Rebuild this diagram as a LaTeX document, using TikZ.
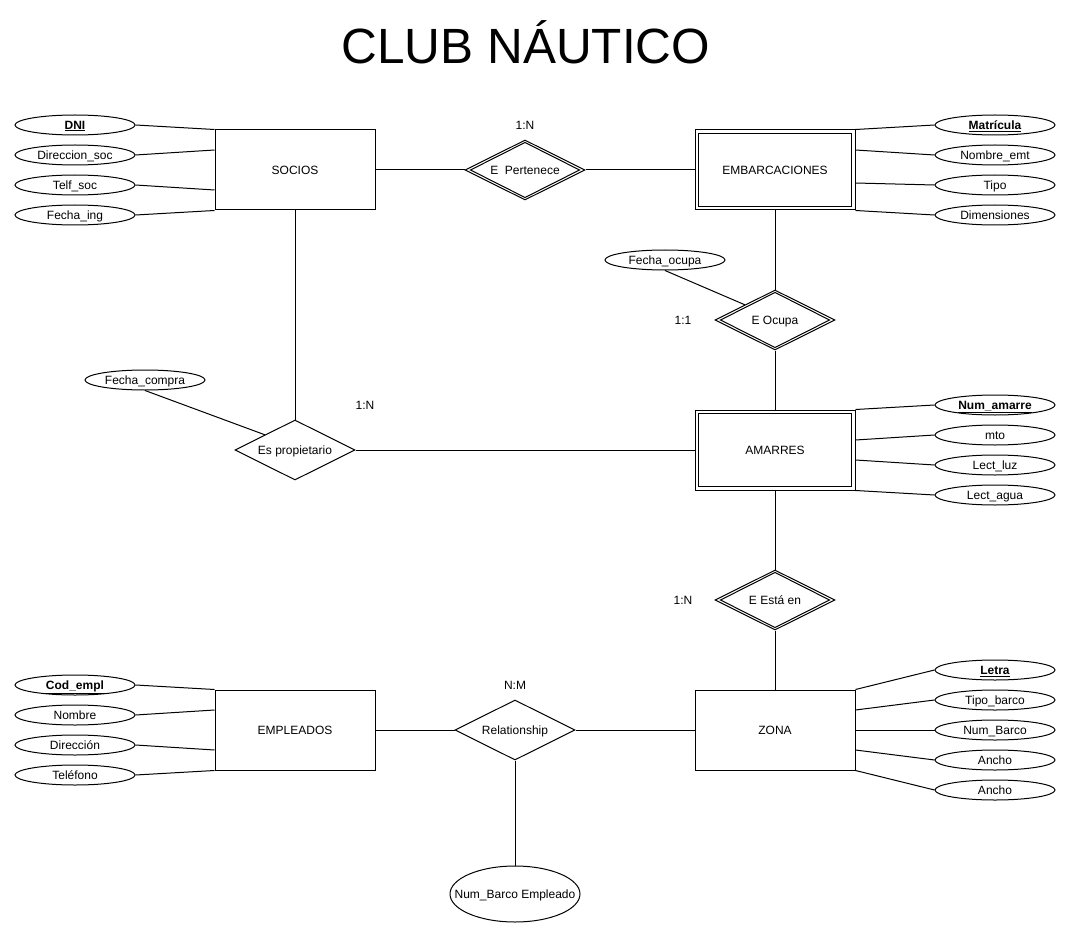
\documentclass[tikz,border=0pt]{standalone}
\usepackage{fontspec}
\setmainfont{Liberation Sans}
\usetikzlibrary{shapes.geometric,calc,backgrounds}
\newcommand{\zw}[1]{\makebox[0pt]{#1}}
\newcommand{\pk}[1]{\underline{\textbf{#1}}}
\begin{document}
\begin{tikzpicture}[x=1pt,y=-1pt,
  every node/.style={font=\fontsize{12}{14}\selectfont, inner sep=0pt, text height=8.4pt, text depth=0pt},
  entity/.style={draw, fill=white, line width=1pt, rectangle, minimum width=160pt, minimum height=80pt},
  attr/.style={draw, fill=white, line width=1pt, ellipse, minimum width=120pt, minimum height=20pt},
  rel/.style={draw, fill=white, line width=1pt, diamond, minimum width=120pt, minimum height=60pt},
  conn/.style={line width=1pt},
  card/.style={font=\fontsize{12}{14}\selectfont},
]
\useasboundingbox (0,0) rectangle (1071,936);

% title
\node[text height=36pt, text depth=10pt] (title) at (526,51) {\fontsize{49.5}{58}\selectfont CLUB NÁUTICO};

% entities
\node[entity] (soc) at (295,170) {SOCIOS};
\node[entity] (emb) at (775,170) {EMBARCACIONES};
\node[entity] (ama) at (775,450) {AMARRES};
\node[entity] (zon) at (775,730) {ZONA};
\node[entity] (emp) at (295,730) {EMPLEADOS};
\draw[conn] ($(emb.north west)+(4,4)$) rectangle ($(emb.south east)+(-4,-4)$);
\draw[conn] ($(ama.north west)+(4,4)$) rectangle ($(ama.south east)+(-4,-4)$);

% relationships
\node[rel] (per) at (525,170) {\zw{E\ \ Pertenece}};
\node[rel] (ocu) at (775,320) {\zw{E Ocupa}};
\node[rel] (pro) at (295,450) {\zw{Es propietario}};
\node[rel] (est) at (775,600) {\zw{E Está en}};
\node[rel] (relm) at (515,730) {\zw{Relationship}};
\foreach \r in {per,ocu,est}{
  \draw[conn] ($(\r.west)+(6,0)$) -- ($(\r.north)+(0,3)$) -- ($(\r.east)+(-6,0)$) -- ($(\r.south)+(0,-3)$) -- cycle;
}

% attributes SOCIOS
\node[attr] (dni) at (75,125) {\zw{\pk{DNI}}};
\node[attr] (dirs) at (75,155) {\zw{Direccion\_soc}};
\node[attr] (tels) at (75,185) {\zw{Telf\_soc}};
\node[attr] (fing) at (75,215) {\zw{Fecha\_ing}};
% attributes EMBARCACIONES
\node[attr] (mat) at (995,125) {\zw{\pk{Matrícula}}};
\node[attr] (nome) at (995,155) {\zw{Nombre\_emt}};
\node[attr] (tipo) at (995,185) {\zw{Tipo}};
\node[attr] (dim) at (995,215) {\zw{Dimensiones}};
% relationship attributes
\node[attr] (fo) at (665,260) {\zw{Fecha\_ocupa}};
\node[attr] (fc) at (145,380) {\zw{Fecha\_compra}};
% attributes AMARRES
\node[attr] (nam) at (995,405) {\zw{\pk{Num\_amarre}}};
\node[attr] (mto) at (995,435) {\zw{mto}};
\node[attr] (luz) at (995,465) {\zw{Lect\_luz}};
\node[attr] (agua) at (995,495) {\zw{Lect\_agua}};
% attributes ZONA
\node[attr] (letra) at (995,670) {\zw{\pk{Letra}}};
\node[attr] (tb) at (995,700) {\zw{Tipo\_barco}};
\node[attr] (nb) at (995,730) {\zw{Num\_Barco}};
\node[attr] (an1) at (995,760) {\zw{Ancho}};
\node[attr] (an2) at (995,790) {\zw{Ancho}};
% attributes EMPLEADOS
\node[attr] (cod) at (75,685) {\zw{\pk{Cod\_empl}}};
\node[attr] (nomb) at (75,715) {\zw{Nombre}};
\node[attr] (dire) at (75,745) {\zw{Dirección}};
\node[attr] (telf) at (75,775) {\zw{Teléfono}};
% relationship attribute
\node[attr, minimum width=130pt, minimum height=56pt] (nbe) at (515,894) {\zw{Num\_Barco Empleado}};

% cardinalities
\node[card] (c1) at (525,125) {1:N};
\node[card] (c2) at (683,320) {1:1};
\node[card] (c3) at (365,405) {1:N};
\node[card] (c4) at (683,600) {1:N};
\node[card] (c5) at (515,685) {N:M};

\begin{scope}[on background layer]
\fill[white] (0,0) rectangle (1071,936);
% relationship connectors
\draw[conn] (soc.east) -- (per.west);
\draw[conn] (per.east) -- (emb.west);
\draw[conn] (emb.south) -- (ocu.north);
\draw[conn] (ocu.south) -- (ama.north);
\draw[conn] (soc.south) -- (pro.north);
\draw[conn] (pro.east) -- (ama.west);
\draw[conn] (ama.south) -- (est.north);
\draw[conn] (est.south) -- (zon.north);
\draw[conn] (emp.east) -- (relm.west);
\draw[conn] (relm.east) -- (zon.west);
\draw[conn] (relm.south) -- (nbe.north);
\draw[conn] (fo.south) -- ($(ocu.west)!0.5!(ocu.north)$);
\draw[conn] (fc.south) -- ($(pro.west)!0.5!(pro.north)$);
% SOCIOS attributes
\draw[conn] (dni.east) -- (soc.north west);
\draw[conn] (dirs.east) -- ($(soc.west)+(0,-20)$);
\draw[conn] (tels.east) -- ($(soc.west)+(0,20)$);
\draw[conn] (fing.east) -- (soc.south west);
% EMBARCACIONES attributes
\draw[conn] (mat.west) -- (emb.north east);
\draw[conn] (nome.west) -- ($(emb.east)+(0,-20)$);
\draw[conn] (tipo.west) -- ($(emb.east)+(0,13)$);
\draw[conn] (dim.west) -- (emb.south east);
% AMARRES attributes
\draw[conn] (nam.west) -- (ama.north east);
\draw[conn] (mto.west) -- ($(ama.east)+(0,-10)$);
\draw[conn] (luz.west) -- ($(ama.east)+(0,10)$);
\draw[conn] (agua.west) -- (ama.south east);
% ZONA attributes
\draw[conn] (letra.west) -- (zon.north east);
\draw[conn] (tb.west) -- ($(zon.east)+(0,-20)$);
\draw[conn] (nb.west) -- (zon.east);
\draw[conn] (an1.west) -- ($(zon.east)+(0,20)$);
\draw[conn] (an2.west) -- (zon.south east);
% EMPLEADOS attributes
\draw[conn] (cod.east) -- (emp.north west);
\draw[conn] (nomb.east) -- ($(emp.west)+(0,-20)$);
\draw[conn] (dire.east) -- ($(emp.west)+(0,20)$);
\draw[conn] (telf.east) -- (emp.south west);
\end{scope}
\end{tikzpicture}
\end{document}
